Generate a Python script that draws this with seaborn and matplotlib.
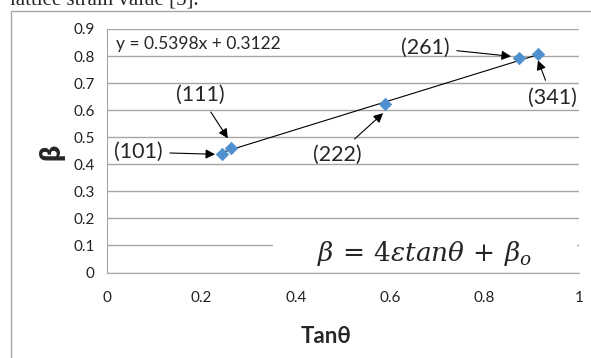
import numpy as np
import pandas as pd
import seaborn as sns
import matplotlib.pyplot as plt
from matplotlib.patches import Rectangle

# Datos
tan_theta = [0.244, 0.263, 0.589, 0.872, 0.914]
beta = [0.437, 0.459, 0.622, 0.791, 0.806]
planos = ['(101)', '(111)', '(222)', '(261)', '(341)']
pendiente = 0.5398
intercepto = 0.3122

# posiciones de las etiquetas (texto, en datos)
etiqueta_xy = [(0.066, 0.445), (0.197, 0.655), (0.487, 0.434), (0.674, 0.832), (0.943, 0.647)]
flecha_xy = [(0.229, 0.437), (0.256, 0.496), (0.585, 0.589), (0.856, 0.799), (0.913, 0.784)]

df = pd.DataFrame({'tan': tan_theta, 'beta': beta})
x_fit = np.array([min(tan_theta), max(tan_theta)])
df_fit = pd.DataFrame({'tan': x_fit, 'beta': pendiente * x_fit + intercepto})

sns.set_style('white')
plt.rcParams['font.family'] = ['Lato', 'DejaVu Sans']

fig = plt.figure(figsize=(5.91, 3.58), dpi=100)
ax = fig.add_axes([107 / 591, 1 - 272.5 / 358, 472 / 591, 243.5 / 358])

# marco exterior del gráfico y texto del documento
fig.patches.append(Rectangle((11 / 591, -0.1), 1.2, 1 - 11 / 358 + 0.1,
                             transform=fig.transFigure, fill=False,
                             edgecolor='#A6A6A6', lw=1))
fig.text(10 / 591, 1 - 4 / 358, 'lattice strain value [5].', family='Liberation Serif',
         fontsize=15, va='baseline', ha='left')

sns.lineplot(data=df_fit, x='tan', y='beta', color='black', lw=0.8, ax=ax, zorder=3)
sns.scatterplot(data=df, x='tan', y='beta', marker='D', s=40, color='#4F8FD0',
                edgecolor='#4F8FD0', ax=ax, zorder=4)

ax.set_xlim(0, 1)
ax.set_ylim(0, 0.9)
ax.set_xticks(np.arange(0, 1.01, 0.2))
ax.set_xticklabels(['0', '0.2', '0.4', '0.6', '0.8', '1'])
ax.set_yticks(np.arange(0, 0.91, 0.1))
ax.set_yticklabels(['0'] + [f'{v:.1f}' for v in np.arange(0.1, 0.91, 0.1)])
ax.yaxis.grid(True, color='#A6A6A6', lw=1)
ax.set_axisbelow(True)
for s in ['top', 'right']:
    ax.spines[s].set_visible(False)
for s in ['left', 'bottom']:
    ax.spines[s].set_color('#A6A6A6')
ax.tick_params(axis='both', which='both', length=4, color='#A6A6A6', labelsize=11,
               labelcolor='#222222', direction='out')
ax.tick_params(axis='y', pad=5)
ax.tick_params(axis='x', pad=9)

ax.set_xlabel('Tanθ', fontsize=16, fontweight='bold')
ax.set_ylabel('β', fontsize=20, fontweight='heavy')
ax.xaxis.set_label_coords(0.464, -0.22)
ax.yaxis.set_label_coords(-0.09, 0.495)

ax.text(0.02, 0.845, 'y = 0.5398x + 0.3122', fontsize=12.5, va='center', ha='left')

for txt, pos, punta in zip(planos, etiqueta_xy, flecha_xy):
    ax.annotate(txt, xy=punta, xytext=pos, fontsize=15.5, ha='center', va='center',
                arrowprops=dict(arrowstyle='-|>', color='black', lw=0.8,
                                mutation_scale=14, shrinkA=3, shrinkB=0), zorder=5)

# recuadro blanco de la ecuación
ax.add_patch(Rectangle((0.351, 0.02), 0.645, 0.16, facecolor='white', edgecolor='none',
                       zorder=2))
ax.text(0.673, 0.07, r'$\beta\,=\,4\varepsilon tan\theta\,+\,\beta_o$', fontsize=19,
        ha='center', va='center', math_fontfamily='dejavuserif', zorder=6)

fig.savefig('out.png', dpi=100)
